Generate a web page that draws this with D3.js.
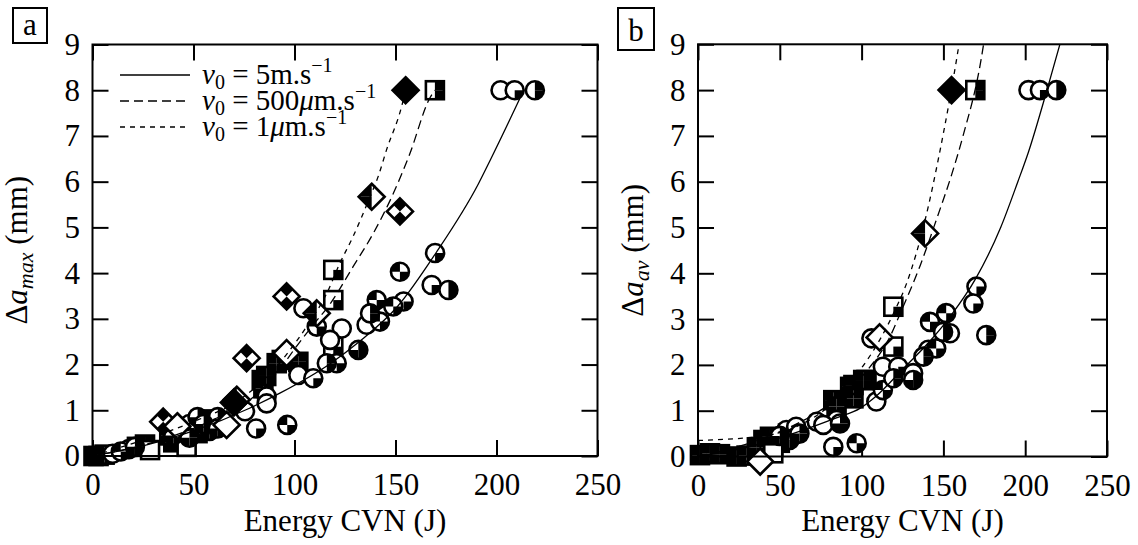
<!DOCTYPE html>
<html><head><meta charset="utf-8">
<script src="https://cdn.jsdelivr.net/npm/d3@7"></script>
<style>
body{margin:0;background:#fff} svg{display:block}
svg text{font-family:"Liberation Serif","Times New Roman",Times,serif;}
</style>
</head><body>
<svg id="chart" width="1138" height="545" font-family="Liberation Serif, Times New Roman, serif"></svg>
<script>
// ---------- data ----------
const xTicks = [0, 50, 100, 150, 200, 250];
const yTicks = [0, 1, 2, 3, 4, 5, 6, 7, 8, 9];
const legendLabels = ["5m.s", "500", "1"];

// fitted curves, panel a (Energy J, delta a mm)
const a_curve5ms   = [[0,0],[25,0.22],[50,0.55],[78,1.05],[93,1.38],[118,2.03],[132,2.5],[151,3.27],[170,4.44],[191,5.95],[197,6.48],[213.5,8]];
const a_curve500um = [[0,0],[30,0.3],[60,0.8],[80,1.3],[92,1.85],[101,2.4],[108,2.8],[118,3.35],[129,4.14],[139,4.87],[149,5.75],[157,6.6],[167,7.83],[169.5,8]];
const a_curve1um   = [[0,0],[25,0.35],[50,0.75],[75,1.3],[90,1.9],[97.8,2.32],[106,2.83],[116,3.56],[122.5,4.22],[129,4.8],[137.4,5.67],[141.4,6.11],[145.6,6.7],[153,7.64],[155,8]];
// fitted curves, panel b
const b_curve5ms   = [[0,0],[30,0.2],[62,0.55],[85,0.85],[99,1.05],[109,1.32],[125,1.9],[140,2.45],[154,3.05],[170,3.9],[185,5.0],[195.5,6.0],[202,6.65],[213.3,8],[222,9.1]];
const b_curve500um = [[0,0],[40,0.4],[70,0.9],[90,1.4],[105,1.95],[117.4,2.62],[124.5,3.2],[135.6,4.15],[146,5.2],[155,6.15],[162,7.0],[173,8.66],[175,9.1]];
const b_curve1um   = [[0,0.35],[40,0.45],[60,0.65],[80,1.1],[95,1.7],[111,2.54],[120.5,3.2],[127.5,3.78],[138.8,5.16],[148,6.69],[158,8.66],[160,9.1]];

// measured points, panel a
const a_circleQuarter = [[169.6,4.44],[167.9,3.74],[154,3.38],[81,0.6],[209,8],[120.9,2.03],[109.3,1.7]];
const a_circleCheck   = [[152.2,4.03],[140.7,3.41],[142.3,2.94],[96.4,0.68],[111,2.83],[148.9,3.27],[14,0.1],[44,0.55]];
const a_circleHalf    = [[176.2,3.63],[219,8],[137.4,3.12],[116,2.03],[62,0.85]];
const a_circleOpen    = [[202,8],[104.4,3.23],[123.4,2.79],[135.7,2.87],[101.9,1.77],[75.5,0.98],[86.2,1.3],[86.2,1.15],[117.6,2.54],[56,0.6],[60,0.75],[10,0.05],[18,0.15],[48,0.7],[64,0.7]];
const a_circleThree   = [[131.6,2.32],[52,0.85],[58,0.55],[21,0.2],[40,0.45],[55,0.7],[62,0.6],[48,0.4]];
const a_squareFull    = [[93.7,2.1],[101.9,2.06],[91.2,2.03],[83.8,1.66],[84.6,1.48],[86,1.75],[0.5,0],[3,0],[42,0.55],[46,0.45],[50,0.6],[22,0.2],[26,0.25],[6,0.03],[38,0.45],[40,0.3],[44,0.35],[52,0.5],[58,0.8]];
const a_squareQuarter = [[119.2,4.07],[119.2,3.41],[119.2,2.39]];
const a_squareOpen    = [[46.6,0.2],[28.5,0.13]];
const a_squareHalf    = [[169.5,8]];
const a_diamondCheck  = [[152.2,5.35],[96.1,3.49],[76.3,2.14],[35,0.75]];
const a_diamondHalf   = [[138.2,5.67],[111,3.12],[71.4,1.23]];
const a_diamondOpen   = [[96.1,2.25],[66.4,0.68],[42,0.65]];
const a_diamondFull   = [[155,8],[70,1.17]];

// measured points, panel b
const b_circleQuarter = [[170.2,3.71],[168.3,3.34],[209,8],[82.7,0.21],[122.4,1.96],[131.5,1.82]];
const b_circleCheck   = [[151.7,3.13],[141.8,2.94],[97,0.29],[145.6,2.36],[113,1.45]];
const b_circleHalf    = [[176.2,2.65],[219,8],[149.8,2.72],[137.8,2.18],[119.4,1.71]];
const b_circleOpen    = [[202,8],[106,2.58],[113,1.96],[140.8,2.33],[154,2.69],[109,1.2],[72.6,0.76],[84.7,0.8],[76.6,0.69],[54,0.58],[60,0.65]];
const b_circleThree   = [[131.5,1.67],[86.8,0.72],[56,0.36],[50,0.45],[62,0.5]];
const b_squareFull    = [[103,1.67],[93,1.52],[95,1.27],[95,1.56],[101,1.67],[82.7,1.23],[84.7,1.09],[1.2,0.03],[7.3,0.07],[13.4,0.05],[23.6,0],[29.7,0.02],[40,0.36],[44,0.43],[46,0.21],[50,0.3],[55,0.5],[36,0.2]];
const b_squareQuarter = [[119.4,3.27],[119.4,2.4]];
const b_squareOpen    = [[46,0.07]];
const b_squareHalf    = [[169.5,8]];
const b_diamondCheck  = [];
const b_diamondHalf   = [[138.8,4.87]];
const b_diamondOpen   = [[111,2.6],[38,-0.11]];
const b_diamondFull   = [[155,8]];

// ---------- drawing ----------
const svg = d3.select("#chart");
const FONT = '"Liberation Serif","Times New Roman",Times,serif';
const FS = 31;

function seriesList(p) {
  return [
    ["square","full",p.squareFull],["square","quarter",p.squareQuarter],["square","open",p.squareOpen],["square","half",p.squareHalf],
    ["circle","open",p.circleOpen],["circle","quarter",p.circleQuarter],["circle","check",p.circleCheck],["circle","half",p.circleHalf],["circle","three",p.circleThree],
    ["diamond","check",p.diamondCheck],["diamond","half",p.diamondHalf],["diamond","open",p.diamondOpen],["diamond","full",p.diamondFull]
  ];
}

const panels = [
  {key:"a", left:92.5, right:597.5, top:44.5, bottom:456, ylab:"max", ylabX:27, box:[13,8,34,35], boxText:[30,35],
   curves:[a_curve5ms,a_curve500um,a_curve1um], legend:true,
   circleQuarter:a_circleQuarter, circleCheck:a_circleCheck, circleHalf:a_circleHalf, circleOpen:a_circleOpen, circleThree:a_circleThree,
   squareFull:a_squareFull, squareQuarter:a_squareQuarter, squareOpen:a_squareOpen, squareHalf:a_squareHalf,
   diamondCheck:a_diamondCheck, diamondHalf:a_diamondHalf, diamondOpen:a_diamondOpen, diamondFull:a_diamondFull},
  {key:"b", left:698, right:1107, top:44.3, bottom:456.5, ylab:"av", ylabX:643, box:[618,8,36,42], boxText:[636,41],
   curves:[b_curve5ms,b_curve500um,b_curve1um], legend:false,
   circleQuarter:b_circleQuarter, circleCheck:b_circleCheck, circleHalf:b_circleHalf, circleOpen:b_circleOpen, circleThree:b_circleThree,
   squareFull:b_squareFull, squareQuarter:b_squareQuarter, squareOpen:b_squareOpen, squareHalf:b_squareHalf,
   diamondCheck:b_diamondCheck, diamondHalf:b_diamondHalf, diamondOpen:b_diamondOpen, diamondFull:b_diamondFull}
];

const dashes = [null, "9,5", "5,5"];
const arc = d3.arc().innerRadius(0);

function drawMarker(g, shape, pat, cx, cy) {
  const m = g.append("g");
  const SW = 2.6;
  if (shape === "circle") {
    const r = 9;
    m.append("circle").attr("cx",cx).attr("cy",cy).attr("r",r).attr("fill","#fff");
    const P = Math.PI;
    const q = {TR:[0,P/2], BR:[P/2,P], BL:[P,1.5*P], TL:[1.5*P,2*P]};
    const fills = {open:[], quarter:["BR"], check:["TL","BR"], half:["TR","BR"], three:["TR","BR","BL"], full:["TR","BR","BL","TL"]}[pat];
    fills.forEach(k => m.append("path").attr("transform",`translate(${cx},${cy})`)
      .attr("d", arc({outerRadius:r, startAngle:q[k][0], endAngle:q[k][1]})).attr("fill","#000"));
    m.append("circle").attr("cx",cx).attr("cy",cy).attr("r",r).attr("fill","none").attr("stroke","#000").attr("stroke-width",SW);
  } else if (shape === "square") {
    const h = 9;
    m.append("rect").attr("x",cx-h).attr("y",cy-h).attr("width",2*h).attr("height",2*h).attr("fill","#fff");
    const q = {TL:[cx-h,cy-h], TR:[cx,cy-h], BL:[cx-h,cy], BR:[cx,cy]};
    const fills = {open:[], quarter:["BR"], half:["TR","BR"], full:["TL","TR","BL","BR"]}[pat];
    fills.forEach(k => m.append("rect").attr("x",q[k][0]).attr("y",q[k][1]).attr("width",h).attr("height",h).attr("fill","#000"));
    m.append("rect").attr("x",cx-h).attr("y",cy-h).attr("width",2*h).attr("height",2*h).attr("fill","none").attr("stroke","#000").attr("stroke-width",SW);
  } else {
    const d = 13;
    const N=[cx,cy-d], E=[cx+d,cy], S=[cx,cy+d], W=[cx-d,cy], C=[cx,cy];
    const mid=(a,b)=>[(a[0]+b[0])/2,(a[1]+b[1])/2];
    const poly = pts => "M" + pts.map(p=>p.join(",")).join("L") + "Z";
    m.append("path").attr("d",poly([N,E,S,W])).attr("fill","#fff");
    let parts = [];
    if (pat === "full") parts = [[N,E,S,W]];
    if (pat === "half") parts = [[C,W,N],[C,S,W]];
    if (pat === "check") parts = [[N,mid(N,E),C,mid(N,W)],[S,mid(S,E),C,mid(S,W)]];
    parts.forEach(pp => m.append("path").attr("d",poly(pp)).attr("fill","#000"));
    m.append("path").attr("d",poly([N,E,S,W])).attr("fill","none").attr("stroke","#000").attr("stroke-width",SW).attr("stroke-linejoin","miter");
  }
}

panels.forEach(p => {
  const x = d3.scaleLinear().domain([0,250]).range([p.left,p.right]);
  const y = d3.scaleLinear().domain([0,9]).range([p.bottom,p.top]);
  const g = svg.append("g");

  const cid = "clip-" + p.key;
  svg.append("clipPath").attr("id",cid).append("rect")
    .attr("x",p.left).attr("y",p.top).attr("width",p.right-p.left).attr("height",p.bottom-p.top);

  const styleAxis = sel => {
    sel.attr("font-family",null).attr("font-size",null);
    sel.select(".domain").remove();
    sel.selectAll(".tick line").attr("stroke","#000").attr("stroke-width",2);
    sel.selectAll(".tick text").attr("fill","#000").style("font-family",FONT).style("font-size",FS+"px");
  };
  g.append("g").attr("transform",`translate(0,${p.bottom})`)
    .call(d3.axisBottom(x).tickValues(xTicks).tickSize(-16).tickPadding(17)).call(styleAxis);
  g.append("g").attr("transform",`translate(0,${p.top})`)
    .call(d3.axisTop(x).tickValues(xTicks).tickSize(-16).tickFormat("")).call(styleAxis);
  g.append("g").attr("transform",`translate(${p.left},0)`)
    .call(d3.axisLeft(y).tickValues(yTicks).tickSize(-16).tickPadding(12.5)).call(styleAxis);
  g.append("g").attr("transform",`translate(${p.right},0)`)
    .call(d3.axisRight(y).tickValues(yTicks).tickSize(-16).tickFormat("")).call(styleAxis);

  const mg = g.append("g");
  seriesList(p).forEach(([shape,pat,pts]) => {
    pts.forEach(d => drawMarker(mg, shape, pat, x(d[0]), y(d[1])));
  });

  const line = d3.line().x(d=>x(d[0])).y(d=>y(d[1])).curve(d3.curveMonotoneX);
  p.curves.forEach((c,i) => {
    g.append("path").attr("d",line(c)).attr("fill","none").attr("stroke","#000")
      .attr("stroke-width",1.3).attr("stroke-dasharray",dashes[i]).attr("clip-path",`url(#${cid})`);
  });

  g.append("rect").attr("x",p.left).attr("y",p.top).attr("width",p.right-p.left).attr("height",p.bottom-p.top)
    .attr("fill","none").attr("stroke","#000").attr("stroke-width",2);

  g.append("text").attr("x",(p.left+p.right)/2).attr("y",531).attr("text-anchor","middle")
    .style("font-family",FONT).style("font-size",FS+"px").text("Energy CVN (J)");

  const yt = g.append("text").attr("transform",`translate(${p.ylabX},${(p.top+p.bottom)/2}) rotate(-90)`)
    .attr("text-anchor","middle").style("font-family",FONT).style("font-size",FS+"px");
  yt.append("tspan").text("Δ");
  yt.append("tspan").style("font-style","italic").text("a");
  yt.append("tspan").attr("dy",6).style("font-style","italic").style("font-size","22px").text(p.ylab);
  yt.append("tspan").attr("dy",-6).text(" (mm)");

  g.append("rect").attr("x",p.box[0]).attr("y",p.box[1]).attr("width",p.box[2]).attr("height",p.box[3])
    .attr("fill","#fff").attr("stroke","#000").attr("stroke-width",2);
  g.append("text").attr("x",p.boxText[0]).attr("y",p.boxText[1]).attr("text-anchor","middle")
    .style("font-family",FONT).style("font-size",FS+"px").text(p.key);

  if (p.legend) {
    const rows = [75, 101, 127];
    rows.forEach((ry,i) => {
      g.append("line").attr("x1",120).attr("x2",190).attr("y1",ry).attr("y2",ry)
        .attr("stroke","#000").attr("stroke-width",1.3).attr("stroke-dasharray",dashes[i]);
      const t = g.append("text").attr("x",202).attr("y",ry+9).style("font-family",FONT).style("font-size","29px");
      t.append("tspan").style("font-style","italic").text("v");
      t.append("tspan").attr("dy",5).style("font-size","20px").text("0");
      t.append("tspan").attr("dy",-5).text(" = ");
      if (i === 0) t.append("tspan").text(legendLabels[0]);
      else {
        t.append("tspan").text(legendLabels[i]);
        t.append("tspan").style("font-style","italic").text("μ");
        t.append("tspan").text("m.s");
      }
      t.append("tspan").attr("dy",-12).style("font-size","20px").text("−1");
    });
  }
});
</script>
</body></html>
